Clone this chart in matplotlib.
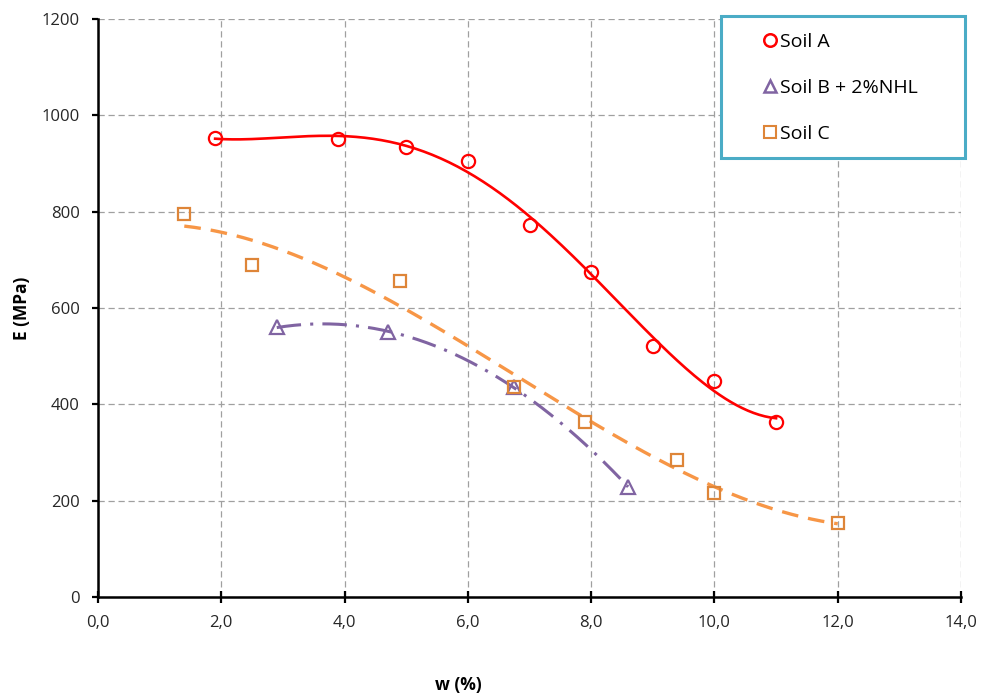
import numpy as np
import matplotlib
matplotlib.use("Agg")
import matplotlib.pyplot as plt
from matplotlib.lines import Line2D
from matplotlib.patches import Rectangle
from matplotlib.ticker import FuncFormatter

plt.rcParams['font.family'] = ['Open Sans', 'DejaVu Sans']

# Data
soilA_w = [1.9, 3.9, 5.0, 6.0, 7.0, 8.0, 9.0, 10.0, 11.0]
soilA_E = [953, 950, 935, 905, 773, 675, 521, 449, 364]
soilB_w = [2.9, 4.7, 6.75, 8.6]
soilB_E = [560, 550, 436, 228]
soilC_w = [1.4, 2.5, 4.9, 6.75, 7.9, 9.4, 10.0, 12.0]
soilC_E = [795, 689, 656, 436, 364, 284, 216, 154]
labels = ["Soil A", "Soil B + 2%NHL", "Soil C"]

W, H = 983, 695
fig = plt.figure(figsize=(W / 100, H / 100), dpi=100)
ax = fig.add_axes([98 / W, 1 - 597 / H, 863 / W, 578 / H])

red = '#FF0000'
purple = '#8064A2'
orange_m = '#DE8538'
orange_l = '#F79646'

def trend(xs, ys, deg):
    p = np.polyfit(xs, ys, deg)
    xx = np.linspace(min(xs), max(xs), 200)
    return xx, np.polyval(p, xx)

xx, yy = trend(soilA_w, soilA_E, 4)
ax.plot(xx, yy, color=red, lw=1.9, zorder=3)
xx, yy = trend(soilB_w, soilB_E, 2)
ax.plot(xx, yy, color=purple, lw=2.2, ls=(0, (8, 3, 1, 3)), zorder=3)
xx, yy = trend(soilC_w, soilC_E, 3)
ax.plot(xx, yy, color=orange_l, lw=2.4, ls=(0, (5, 3)), zorder=3)

ms = 9.5
ax.plot(soilA_w, soilA_E, 'o', mfc='none', mec=red, mew=1.6, ms=ms, zorder=4)
ax.plot(soilB_w, soilB_E, '^', mfc='none', mec=purple, mew=1.6, ms=ms, zorder=4)
ax.plot(soilC_w, soilC_E, 's', mfc='none', mec=orange_m, mew=1.6, ms=ms - 0.5, zorder=4)

ax.set_xlim(0, 14)
ax.set_ylim(0, 1200)
ax.set_xticks(np.arange(0, 15, 2))
ax.set_yticks(np.arange(0, 1201, 200))
ax.xaxis.set_major_formatter(FuncFormatter(lambda v, p: f"{v:.1f}".replace('.', ',')))
ax.grid(True, color='#A0A0A0', ls=(0, (5, 3)), lw=0.9)
ax.set_axisbelow(True)
for s in ['top', 'right']:
    ax.spines[s].set_visible(False)
for s in ['left', 'bottom']:
    ax.spines[s].set_linewidth(1.8)
ax.tick_params(axis='both', labelsize=12, colors='#262626', width=1.6)
ax.tick_params(axis='y', direction='out', length=4, pad=9, color='black')
ax.tick_params(axis='x', direction='inout', length=8, pad=9, color='black')
ax.set_xlabel('w (%)', fontsize=12.5, fontweight='bold', va='center')
ax.set_ylabel('E (MPa)', fontsize=12.5, fontweight='bold', va='center')
ax.xaxis.set_label_coords((458 - 98) / 863, (597 - 685) / 578)
ax.yaxis.set_label_coords((22 - 98) / 863, 0.5)

# legend box
box = Rectangle((721 / W, 1 - 158 / H), 244 / W, 142 / H, transform=fig.transFigure,
                facecolor='white', edgecolor='#4BACC6', lw=2.2, zorder=5)
fig.add_artist(box)

handles = [
    Line2D([], [], ls='none', marker='o', mfc='none', mec=red, mew=1.8, ms=9),
    Line2D([], [], ls='none', marker='^', mfc='none', mec=purple, mew=1.8, ms=9),
    Line2D([], [], ls='none', marker='s', mfc='none', mec=orange_m, mew=1.5, ms=8.5),
]
leg = fig.legend(handles, labels, loc='upper left', bbox_to_anchor=(763 / W, 1 - 33 / H),
                 fontsize=14, frameon=False, handlelength=0.7, handletextpad=0.15,
                 borderpad=0, labelspacing=1.43, borderaxespad=0)
leg.set_zorder(6)

fig.savefig('out.png', dpi=100)
